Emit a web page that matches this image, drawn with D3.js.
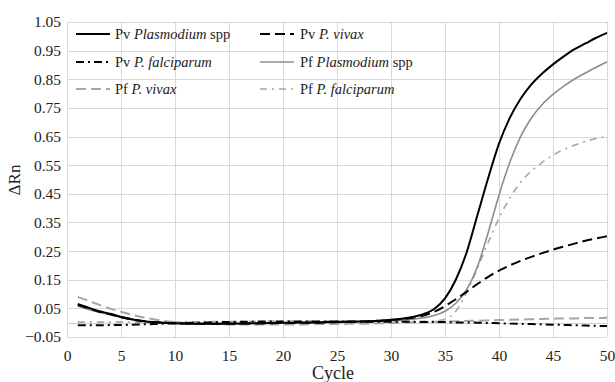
<!DOCTYPE html>
<html>
<head>
<meta charset="utf-8">
<script src="https://cdn.jsdelivr.net/npm/d3@7"></script>
<style>
  html, body { margin: 0; padding: 0; background: #fff; }
  svg { display: block; }
  svg text { font-family: "Liberation Serif", "Times New Roman", serif !important; }
</style>
</head>
<body>
<svg id="chart" width="615" height="382"></svg>
<script>
const cycles = [1,2,3,4,5,6,7,8,9,10,11,12,13,14,15,16,17,18,19,20,21,22,23,24,25,26,27,28,29,30,31,32,33,34,35,36,37,38,39,40,41,42,43,44,45,46,47,48,49,50];

const pvPlasmodiumSpp = [0.065,0.052,0.040,0.031,0.020,0.012,0.006,0.002,0.000,-0.002,
  -0.003,-0.004,-0.004,-0.004,-0.003,-0.003,-0.002,-0.002,-0.001,0.000,
  0.000,0.001,0.001,0.002,0.003,0.003,0.004,0.005,0.007,0.010,
  0.014,0.020,0.030,0.048,0.085,0.150,0.245,0.375,0.505,0.625,
  0.715,0.782,0.832,0.870,0.902,0.930,0.955,0.975,0.995,1.012];

const pvVivax = [0.062,0.050,0.038,0.029,0.020,0.012,0.006,0.002,0.000,-0.002,
  -0.003,-0.004,-0.004,-0.004,-0.004,-0.003,-0.003,-0.002,-0.002,-0.001,
  -0.001,0.000,0.000,0.001,0.002,0.003,0.004,0.005,0.007,0.009,
  0.012,0.017,0.025,0.038,0.058,0.082,0.108,0.135,0.160,0.182,
  0.200,0.216,0.230,0.243,0.255,0.266,0.276,0.286,0.294,0.302];

const pvFalciparum = [-0.009,-0.009,-0.009,-0.008,-0.008,-0.007,-0.006,-0.005,-0.003,-0.002,
  -0.001,0.000,0.001,0.002,0.002,0.003,0.003,0.004,0.004,0.004,
  0.004,0.004,0.004,0.004,0.004,0.004,0.004,0.003,0.003,0.003,
  0.003,0.003,0.002,0.002,0.002,0.001,0.001,0.000,-0.001,-0.002,
  -0.003,-0.004,-0.005,-0.006,-0.007,-0.008,-0.009,-0.010,-0.011,-0.012];

const pfPlasmodiumSpp = [0.058,0.046,0.036,0.028,0.018,0.010,0.004,0.000,-0.002,-0.003,
  -0.004,-0.005,-0.005,-0.005,-0.004,-0.004,-0.003,-0.003,-0.002,-0.002,
  -0.001,-0.001,0.000,0.000,0.001,0.002,0.003,0.004,0.005,0.007,
  0.009,0.012,0.017,0.025,0.040,0.068,0.115,0.195,0.315,0.445,
  0.560,0.650,0.715,0.762,0.797,0.826,0.851,0.872,0.892,0.910];

const pfVivax = [0.090,0.076,0.062,0.049,0.038,0.028,0.019,0.012,0.006,0.002,
  -0.001,-0.003,-0.004,-0.005,-0.006,-0.006,-0.006,-0.006,-0.006,-0.006,
  -0.006,-0.006,-0.005,-0.005,-0.005,-0.004,-0.004,-0.003,-0.002,-0.001,
  0.000,0.001,0.002,0.003,0.004,0.005,0.006,0.007,0.008,0.009,
  0.010,0.011,0.012,0.013,0.014,0.015,0.015,0.016,0.016,0.017];

const pfFalciparum = [0.002,0.002,0.002,0.002,0.002,0.002,0.002,0.002,0.002,0.003,
  0.003,0.003,0.004,0.004,0.004,0.005,0.005,0.005,0.006,0.006,
  0.006,0.006,0.006,0.006,0.006,0.005,0.005,0.005,0.005,0.005,
  0.005,0.005,0.005,0.006,0.012,0.040,0.105,0.190,0.280,0.365,
  0.435,0.490,0.530,0.560,0.585,0.605,0.620,0.633,0.643,0.650];

const xTicks = [0,5,10,15,20,25,30,35,40,45,50];
const yTicks = [-0.05,0.05,0.15,0.25,0.35,0.45,0.55,0.65,0.75,0.85,0.95,1.05];

const seriesList = [
  { prefix: "Pv ", italic: "Plasmodium", suffix: " spp", values: pvPlasmodiumSpp },
  { prefix: "Pv ", italic: "P. vivax", suffix: "", values: pvVivax },
  { prefix: "Pv ", italic: "P. falciparum", suffix: "", values: pvFalciparum },
  { prefix: "Pf ", italic: "Plasmodium", suffix: " spp", values: pfPlasmodiumSpp },
  { prefix: "Pf ", italic: "P. vivax", suffix: "", values: pfVivax },
  { prefix: "Pf ", italic: "P. falciparum", suffix: "", values: pfFalciparum }
];
const styles = [
  { color: "#000000", width: 2, dash: null },
  { color: "#000000", width: 2, dash: "10,5" },
  { color: "#000000", width: 2, dash: "8,4,2,4" },
  { color: "#8c8c8c", width: 1.6, dash: null },
  { color: "#a6a6a6", width: 2, dash: "10,5" },
  { color: "#a6a6a6", width: 1.6, dash: "7,5,2,5" }
];

const FONT = "'Liberation Serif', 'Times New Roman', serif";

const svg = d3.select("#chart");
const m = { left: 67, right: 607, top: 22, bottom: 337 };
const x = d3.scaleLinear().domain([0, 50]).range([m.left, m.right]);
const y = d3.scaleLinear().domain([-0.05, 1.05]).range([m.bottom, m.top]);

const grid = svg.append("g");
grid.selectAll("line.v").data(xTicks).join("line")
  .attr("x1", d => x(d) + 0.5).attr("x2", d => x(d) + 0.5)
  .attr("y1", m.top).attr("y2", m.bottom)
  .attr("stroke", "#d9d9d9").attr("stroke-width", 1);
grid.selectAll("line.h").data(yTicks).join("line")
  .attr("x1", m.left).attr("x2", m.right)
  .attr("y1", d => Math.round(y(d)) + 0.5).attr("y2", d => Math.round(y(d)) + 0.5)
  .attr("stroke", "#d9d9d9").attr("stroke-width", 1);
grid.append("line")
  .attr("x1", m.left).attr("x2", m.right)
  .attr("y1", Math.round(y(0)) + 0.5).attr("y2", Math.round(y(0)) + 0.5)
  .attr("stroke", "#d0d0d0").attr("stroke-width", 1);

const xAxis = svg.append("g").attr("transform", `translate(0,${m.bottom})`)
  .call(d3.axisBottom(x).tickValues(xTicks).tickFormat(d3.format("d")).tickSize(0).tickPadding(13));
xAxis.attr("font-family", FONT);
xAxis.select(".domain").remove();
xAxis.selectAll("text").attr("font-size", 15.5).attr("fill", "#222").style("font-family", FONT);

const yAxis = svg.append("g").attr("transform", `translate(${m.left},0)`)
  .call(d3.axisLeft(y).tickValues(yTicks).tickFormat(d3.format(".2f")).tickSize(0).tickPadding(6));
yAxis.attr("font-family", FONT);
yAxis.select(".domain").remove();
yAxis.selectAll("text").attr("font-size", 15.5).attr("fill", "#222").style("font-family", FONT);

svg.append("text").attr("x", 333).attr("y", 379).attr("text-anchor", "middle")
  .attr("font-size", 18).attr("fill", "#222").style("font-family", FONT).text("Cycle");
svg.append("text").attr("transform", "translate(20,180) rotate(-90)").attr("text-anchor", "middle")
  .attr("font-size", 17).attr("fill", "#222").style("font-family", FONT).text("ΔRn");

const line = d3.line().x((d, i) => x(cycles[i])).y(d => y(d)).curve(d3.curveMonotoneX);

const order = [4, 5, 3, 2, 1, 0];
order.forEach(k => {
  const s = seriesList[k], st = styles[k];
  svg.append("path").datum(s.values)
    .attr("d", line).attr("fill", "none")
    .attr("stroke", st.color).attr("stroke-width", st.width)
    .attr("stroke-dasharray", st.dash);
});

const legendPos = [
  { lx: 76, tx: 115, y: 34 }, { lx: 260, tx: 300, y: 34 },
  { lx: 76, tx: 115, y: 62 }, { lx: 260, tx: 300, y: 62 },
  { lx: 76, tx: 115, y: 89 }, { lx: 260, tx: 300, y: 89 }
];
seriesList.forEach((s, k) => {
  const p = legendPos[k], st = styles[k];
  svg.append("line").attr("x1", p.lx).attr("x2", p.lx + 34)
    .attr("y1", p.y).attr("y2", p.y)
    .attr("stroke", st.color).attr("stroke-width", st.width)
    .attr("stroke-dasharray", st.dash);
  const t = svg.append("text").attr("x", p.tx).attr("y", p.y + 5)
    .attr("font-size", 14.5).attr("fill", "#222").style("font-family", FONT);
  t.append("tspan").text(s.prefix);
  t.append("tspan").attr("font-style", "italic").text(s.italic);
  if (s.suffix) t.append("tspan").text(s.suffix);
});
</script>
</body>
</html>
